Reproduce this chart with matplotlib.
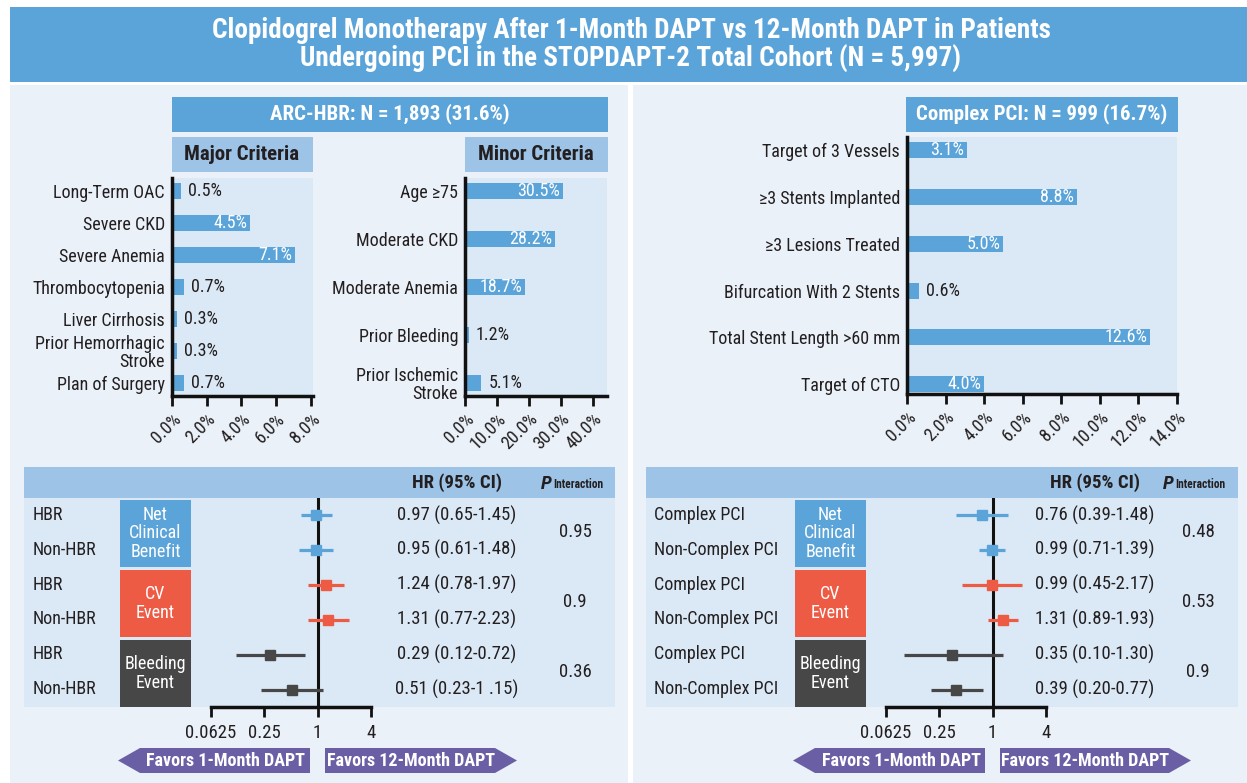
import matplotlib
matplotlib.use('Agg')
import matplotlib.pyplot as plt
from matplotlib.patches import Rectangle, Polygon
from matplotlib.ticker import NullLocator
from matplotlib import font_manager
import numpy as np

# ---- data ----
major_labels = ['Long-Term OAC', 'Severe CKD', 'Severe Anemia', 'Thrombocytopenia',
                'Liver Cirrhosis', 'Prior Hemorrhagic\nStroke', 'Plan of Surgery']
major_values = [0.5, 4.5, 7.1, 0.7, 0.3, 0.3, 0.7]
major_ticks = [0, 2, 4, 6, 8]

minor_labels = ['Age ≥75', 'Moderate CKD', 'Moderate Anemia', 'Prior Bleeding',
                'Prior Ischemic\nStroke']
minor_values = [30.5, 28.2, 18.7, 1.2, 5.1]
minor_ticks = [0, 10, 20, 30, 40]

complex_labels = ['Target of 3 Vessels', '≥3 Stents Implanted', '≥3 Lesions Treated',
                  'Bifurcation With 2 Stents', 'Total Stent Length >60 mm', 'Target of CTO']
complex_values = [3.1, 8.8, 5.0, 0.6, 12.6, 4.0]
complex_ticks = [0, 2, 4, 6, 8, 10, 12, 14]

categories = ['Net\nClinical\nBenefit', 'CV\nEvent', 'Bleeding\nEvent']

hbr_rows = ['HBR', 'Non-HBR', 'HBR', 'Non-HBR', 'HBR', 'Non-HBR']
hbr_hr = [0.97, 0.95, 1.24, 1.31, 0.29, 0.51]
hbr_lo = [0.65, 0.61, 0.78, 0.77, 0.12, 0.23]
hbr_hi = [1.45, 1.48, 1.97, 2.23, 0.72, 1.15]
hbr_text = ['0.97 (0.65-1.45)', '0.95 (0.61-1.48)', '1.24 (0.78-1.97)',
            '1.31 (0.77-2.23)', '0.29 (0.12-0.72)', '0.51 (0.23-1 .15)']
hbr_p = ['0.95', '0.9', '0.36']

pci_rows = ['Complex PCI', 'Non-Complex PCI'] * 3
pci_hr = [0.76, 0.99, 0.99, 1.31, 0.35, 0.39]
pci_lo = [0.39, 0.71, 0.45, 0.89, 0.10, 0.20]
pci_hi = [1.48, 1.39, 2.17, 1.93, 1.30, 0.77]
pci_text = ['0.76 (0.39-1.48)', '0.99 (0.71-1.39)', '0.99 (0.45-2.17)',
            '1.31 (0.89-1.93)', '0.35 (0.10-1.30)', '0.39 (0.20-0.77)']
pci_p = ['0.48', '0.53', '0.9']

hr_ticks = [0.0625, 0.25, 1, 4]
hr_tick_labels = ['0.0625', '0.25', '1', '4']

# ---- style ----
names = {f.name for f in font_manager.fontManager.ttflist}
FONT = 'DejaVu Sans'
for cand in ['Roboto Condensed', 'Liberation Sans Narrow', 'Open Sans Condensed',
             'Noto Sans Condensed', 'Roboto']:
    if cand in names:
        FONT = cand
        break
plt.rcParams['font.family'] = [FONT, 'DejaVu Sans']

BLUE = '#5BA4D9'
LIGHT = '#9DC3E6'
PANEL = '#EAF1F9'
AREA = '#DBE8F5'
RED = '#EE5B45'
DARK = '#474747'
PURPLE = '#6A5FA5'
TXT = '#231F20'
cat_colors = [BLUE, RED, DARK]
FS = 13

W, H = 1247, 783
fig = plt.figure(figsize=(W / 100, H / 100), dpi=100)


def px_axes(x0, y0, x1, y1):
    return fig.add_axes([x0 / W, 1 - y1 / H, (x1 - x0) / W, (y1 - y0) / H])


bg = fig.add_axes([0, 0, 1, 1])
bg.set_xlim(0, W)
bg.set_ylim(H, 0)
bg.axis('off')


def box(x0, y0, x1, y1, color):
    bg.add_patch(Rectangle((x0, y0), x1 - x0, y1 - y0, color=color, lw=0))


# title and panels
box(10, 7, W, 82, BLUE)
bg.text(631, 30, 'Clopidogrel Monotherapy After 1-Month DAPT vs 12-Month DAPT in Patients',
        ha='center', va='center', color='white', fontsize=19.5, fontweight='bold')
bg.text(631, 59, 'Undergoing PCI in the STOPDAPT-2 Total Cohort (N = 5,997)',
        ha='center', va='center', color='white', fontsize=19.5, fontweight='bold')
box(10, 85, 628, H, PANEL)
box(633, 85, W, H, PANEL)

# bar panel headers
box(172, 97, 608, 132, BLUE)
bg.text(390, 114, 'ARC-HBR: N = 1,893 (31.6%)', ha='center', va='center',
        color='white', fontsize=15, fontweight='bold')
box(172, 137, 313, 172, LIGHT)
bg.text(242, 155, 'Major Criteria', ha='center', va='center', color=TXT,
        fontsize=15, fontweight='bold')
box(465, 137, 608, 172, LIGHT)
bg.text(536, 155, 'Minor Criteria', ha='center', va='center', color=TXT,
        fontsize=15, fontweight='bold')
box(906, 97, 1178, 132, BLUE)
bg.text(1042, 114, 'Complex PCI: N = 999 (16.7%)', ha='center', va='center',
        color='white', fontsize=15, fontweight='bold')


def bar_panel(x0, y0, x1, y1, labels, values, ticks, xmax, pad_top, pad_bot, bar_h):
    ax = px_axes(x0, y0, x1, y1)
    ax.set_facecolor(AREA)
    n = len(values)
    y = np.arange(n)
    ax.barh(y, values, height=bar_h, color=BLUE, zorder=2)
    ax.set_xlim(0, xmax)
    ax.set_ylim(n - 1 + pad_bot, -pad_top)
    ax.set_yticks(y)
    ax.set_yticklabels(labels, fontsize=FS, color=TXT, linespacing=1.0)
    ax.set_xticks(ticks)
    ax.set_xticklabels([f'{t:.1f}%' for t in ticks], rotation=45, ha='right',
                       rotation_mode='anchor', fontsize=FS, color=TXT)
    ax.tick_params(axis='y', length=0, pad=5)
    ax.tick_params(axis='x', length=7, width=2, pad=3, color='#111111')
    for s in ['top', 'right']:
        ax.spines[s].set_visible(False)
    for s in ['left', 'bottom']:
        ax.spines[s].set_linewidth(2.5)
        ax.spines[s].set_color('#111111')
    ppu = (x1 - x0) / xmax
    for yi, v in zip(y, values):
        if v * ppu > 40:
            ax.annotate(f'{v:.1f}%', (v, yi), xytext=(-2, 0), textcoords='offset points',
                        ha='right', va='center', color='white', fontsize=FS)
        else:
            ax.annotate(f'{v:.1f}%', (v, yi), xytext=(5, 0), textcoords='offset points',
                        ha='left', va='center', color=TXT, fontsize=FS)
    return ax


bar_panel(172, 178, 313, 396, major_labels, major_values, major_ticks, 8.12, 0.41, 0.41, 0.5)
bar_panel(465, 178, 607, 396, minor_labels, minor_values, minor_ticks, 44.4, 0.27, 0.27, 0.33)
bar_panel(907, 137, 1177, 394, complex_labels, complex_values, complex_ticks, 14, 0.28, 0.21, 0.34)


def forest(band_x0, band_x1, ax_x0, ax_x1, lab_x, cat_x0, cat_x1, ci_x, p_x, p_lab_x,
           rows, hr, lo, hi, texts, pvals, arrow_l, arrow_r):
    box(band_x0, 467, band_x1, 498, LIGHT)
    box(band_x0, 498, band_x1, 707, AREA)
    bg.text(ci_x, 483, 'HR (95% CI)', ha='center', va='center', color=TXT,
            fontsize=13.5, fontweight='bold')
    bg.text(p_lab_x, 484, 'P', ha='left', va='center', color=TXT, fontsize=14,
            fontweight='bold', style='italic')
    bg.text(p_lab_x + 12, 485, 'Interaction', ha='left', va='center', color=TXT,
            fontsize=8.3, fontweight='bold')
    ys = 515 + np.arange(6) * 34.8
    for yv, r, t in zip(ys, rows, texts):
        bg.text(lab_x, yv, r, ha='left', va='center', color=TXT, fontsize=FS)
        bg.text(ci_x, yv, t, ha='center', va='center', color=TXT, fontsize=13.5)
    for k, (cat, col, pv) in enumerate(zip(categories, cat_colors, pvals)):
        top = 500 + k * 70
        box(cat_x0, top, cat_x1, top + 67, col)
        bg.text((cat_x0 + cat_x1) / 2, top + 33.5, cat, ha='center', va='center',
                color='white', fontsize=FS, linespacing=1.05)
        bg.text(p_x, (ys[2 * k] + ys[2 * k + 1]) / 2, pv, ha='center', va='center',
                color=TXT, fontsize=13.5)

    ax = px_axes(ax_x0, 498, ax_x1, 707)
    ax.patch.set_alpha(0)
    ax.set_xscale('log', base=2)
    ax.set_xlim(hr_ticks[0], hr_ticks[-1])
    ax.set_ylim(5.5, -0.5)
    ax.axvline(1, color='#111111', lw=2.2, zorder=1)
    for i in range(6):
        col = cat_colors[i // 2]
        ax.plot([lo[i], hi[i]], [i, i], color=col, lw=2.3, solid_capstyle='butt',
                zorder=2, clip_on=False)
        ax.plot(hr[i], i, marker='s', ms=7.5, color=col, mec=col, zorder=3, clip_on=False)
    ax.set_xticks(hr_ticks)
    ax.set_xticklabels(hr_tick_labels, fontsize=13.5, color=TXT)
    ax.xaxis.set_minor_locator(NullLocator())
    ax.set_yticks([])
    for s in ['top', 'right', 'left']:
        ax.spines[s].set_visible(False)
    ax.spines['bottom'].set_linewidth(2.5)
    ax.spines['bottom'].set_color('#111111')
    ax.tick_params(axis='x', length=7, width=2, pad=5, color='#111111')

    # favors arrows
    a0, a1 = arrow_l
    bg.add_patch(Polygon([(a0, 760.5), (a0 + 22, 748), (a1, 748), (a1, 773), (a0 + 22, 773)],
                         closed=True, color=PURPLE, lw=0))
    bg.text((a0 + 22 + a1) / 2 + 1, 760.5, 'Favors 1-Month DAPT', ha='center', va='center',
            color='white', fontsize=13, fontweight='bold')
    b0, b1 = arrow_r
    bg.add_patch(Polygon([(b0, 748), (b1 - 22, 748), (b1, 760.5), (b1 - 22, 773), (b0, 773)],
                         closed=True, color=PURPLE, lw=0))
    bg.text((b0 + b1 - 22) / 2 + 1, 760.5, 'Favors 12-Month DAPT', ha='center', va='center',
            color='white', fontsize=13, fontweight='bold')


forest(24, 615, 211, 371, 33, 120, 191, 457, 575, 541, hbr_rows, hbr_hr, hbr_lo, hbr_hi,
       hbr_text, hbr_p, (118, 310), (325, 517))
forest(646, 1238, 886, 1046, 654, 795, 866, 1095, 1198, 1163, pci_rows, pci_hr, pci_lo, pci_hi,
       pci_text, pci_p, (793, 985), (1000, 1191))

fig.savefig('out.png', dpi=100, facecolor='white')
